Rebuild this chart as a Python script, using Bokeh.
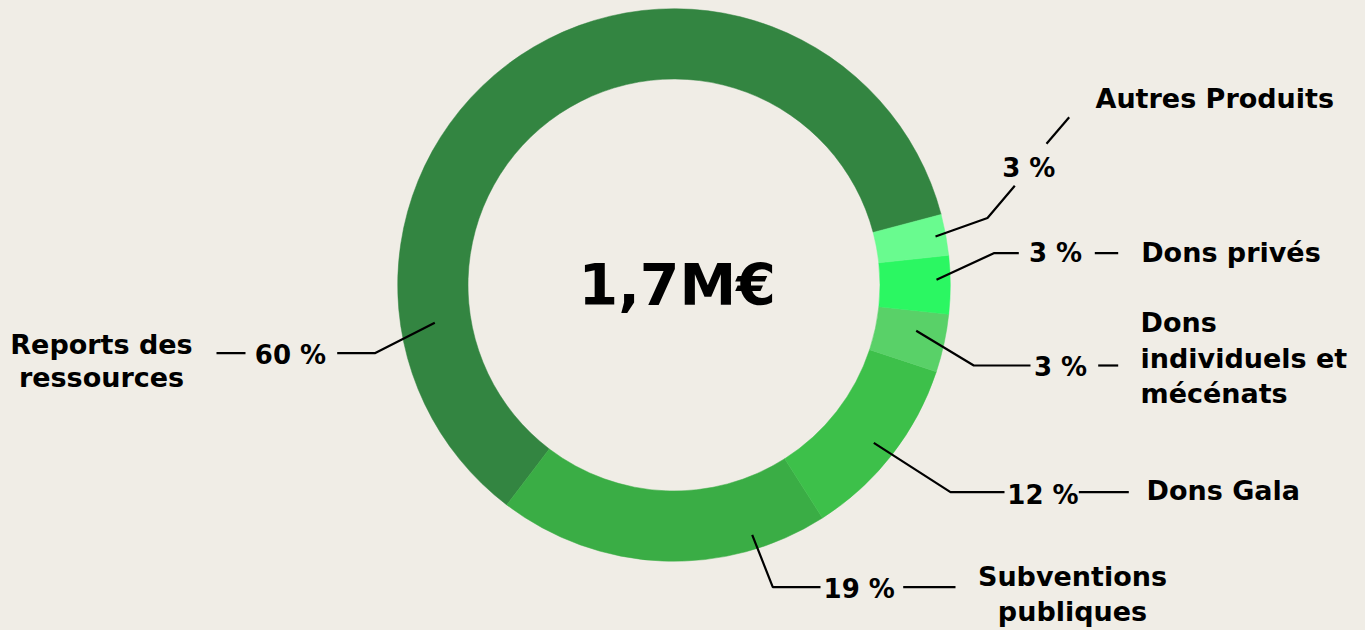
import math
from bokeh.plotting import figure
from bokeh.models import Range1d, ColumnDataSource
from bokeh.core.properties import value
from bokeh.embed import file_html
from bokeh.resources import INLINE

# ---------------- data ----------------
categories = ["Reports des ressources", "Subventions publiques", "Dons Gala",
              "Dons individuels et mécénats", "Dons privés", "Autres Produits"]
shares = [60.6, 19.4, 10.9, 3.4, 3.4, 2.4]          # slice sizes
pct_labels = ["60 %", "19 %", "12 %", "3 %", "3 %", "3 %"]  # printed labels
name_lines = [["Reports des", "ressources"], ["Subventions", "publiques"], ["Dons Gala"],
              ["Dons", "individuels et", "mécénats"], ["Dons privés"], ["Autres Produits"]]
colors = ["#338541", "#3aad45", "#3dc04a", "#59d168", "#2bf762", "#69fb8f"]
center_label = "1,7M€"

# ---------------- layout (screen pixel coordinates) ----------------
BG = "#f0ede6"
W, H = 1365, 630
FONT = value("DejaVu Sans")
BASE_FIX = 0.35   # svg text baseline correction (fraction of font size)


def sy(y):
    return H - y


def ty(baseline, size):
    return sy(baseline - BASE_FIX * size)


CX, CY = 673.5, 284.5
R_OUT, R_IN = 276.3, 206.0
START_DEG = 14.8

leaders = [
    [[(434.3, 322.3), (374.3, 352.7), (336.7, 352.7)], [(216, 352.7), (245, 352.7)]],
    [[(751.7, 534.3), (772.3, 586.7), (820, 586.7)], [(902.7, 586.7), (955, 586.7)]],
    [[(873.3, 442.3), (950, 491.7), (1004, 491.7)], [(1078.3, 491.7), (1128.3, 491.7)]],
    [[(915.7, 330.3), (973.3, 365), (1030, 365)], [(1097.7, 365), (1117.7, 365)]],
    [[(936, 279.3), (993.3, 252.7), (1018.3, 252.7)], [(1094.3, 252.7), (1117.7, 252.7)]],
    [[(935, 236), (987, 217.5), (1014.3, 185.3)], [(1046, 143.3), (1068.7, 116.7)]],
]
PCT_SIZE = 26
# percentage label: (center x, baseline y)
pct_pos = [(290, 364), (858.7, 597.3), (1042.5, 503.3), (1060, 376), (1055, 261.7), (1028.3, 176.7)]
# name label: (x, first baseline, line step, align, size)
name_pos = [(101, 353, 33.5, "center", 27), (1072, 585.7, 34.5, "center", 27),
            (1146, 499.3, 35, "left", 27), (1140, 331.7, 35.5, "left", 27),
            (1140.7, 261.7, 35, "left", 27), (1095, 107, 35, "left", 27)]

p = figure(width=W, height=H, x_range=Range1d(0, W), y_range=Range1d(0, H),
           output_backend="svg", toolbar_location=None, min_border=0)
p.axis.visible = False
p.grid.visible = False
p.outline_line_color = None
p.background_fill_color = BG
p.border_fill_color = BG

total = sum(shares)
starts, ends = [], []
acc = math.radians(START_DEG)
for s in shares:
    a = 2 * math.pi * s / total
    starts.append(acc)
    ends.append(acc + a)
    acc += a

src = ColumnDataSource(dict(cat=categories, start=starts, end=ends, color=colors))
p.annular_wedge(x=CX, y=sy(CY), inner_radius=R_IN, outer_radius=R_OUT,
                start_angle="start", end_angle="end", direction="anticlock",
                fill_color="color", line_color="color", line_width=0.5, source=src)

xs, ys = [], []
for segs in leaders:
    for seg in segs:
        xs.append([pt[0] for pt in seg])
        ys.append([sy(pt[1]) for pt in seg])
p.multi_line(xs, ys, line_color="black", line_width=2.2)

p.text(x=[q[0] for q in pct_pos], y=[ty(q[1], PCT_SIZE) for q in pct_pos], text=pct_labels,
       text_font=FONT, text_font_style="bold", text_font_size=f"{PCT_SIZE}px",
       text_color="black", text_align="center", text_baseline="alphabetic")

for lines, (x, y0, step, align, size) in zip(name_lines, name_pos):
    p.text(x=[x] * len(lines), y=[ty(y0 + i * step, size) for i in range(len(lines))], text=lines,
           text_font=FONT, text_font_style="bold", text_font_size=f"{size}px",
           text_color="black", text_align=align, text_baseline="alphabetic")

p.text(x=[676.7], y=[ty(304.2, 57)], text=[center_label], text_font=FONT, text_font_style="bold",
       text_font_size="57px", text_color="black", text_align="center", text_baseline="alphabetic")

html = file_html(p, INLINE)
html = html.replace("<head>", "<head><style>html,body{background:%s;margin:0;overflow:hidden;}</style>" % BG, 1)
open("out.html", "w").write(html)
